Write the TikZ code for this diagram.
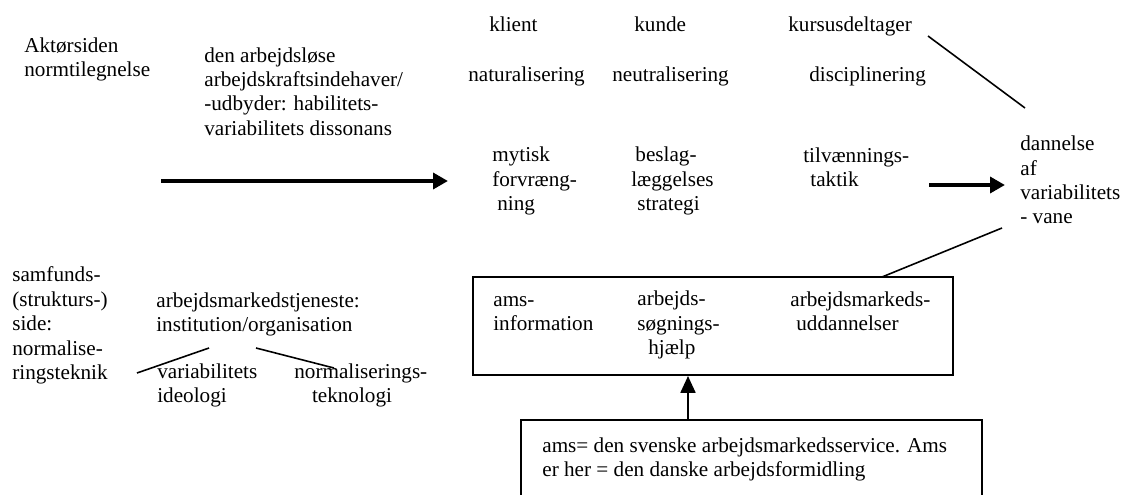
\documentclass[tikz,border=0pt]{standalone}
\usepackage{fontspec}
\setmainfont{Liberation Serif}
\usetikzlibrary{arrows.meta}

\tikzset{
  tekst/.style={anchor=base west, align=left, inner sep=0pt, font=\fontsize{12}{13.8}\selectfont},
  streg/.style={line width=0.9pt},
  tykpil/.style={line width=2.8pt, -{Triangle[length=8.5pt,width=9pt]}},
  tyndpil/.style={line width=1pt, -{Triangle[length=9.5pt,width=8.5pt]}},
  kasse/.style={draw, line width=1.2pt, inner sep=0pt},
}

\begin{document}
\begin{tikzpicture}[x=0.5666pt, y=-0.5666pt]
  \clip (0,0) rectangle (1122,495);

  % Aktørsiden (tekster sat efter sidste linjes grundlinje)
  \node[tekst] (akt) at (24,76.4) {Aktørsiden\\normtilegnelse};
  \node[tekst] (ledig) at (204,135.1) {den arbejdsløse\\arbejdskraftsindehaver/\\-udbyder: habilitets-\\variabilitets dissonans};

  % Roller, virkninger og strategier
  \node[tekst] (klient) at (489,32) {klient};
  \node[tekst] (kunde) at (634,32) {kunde};
  \node[tekst] (kursus) at (788,32) {kursusdeltager};
  \node[tekst] (natural) at (468,82) {naturalisering};
  \node[tekst] (neutral) at (612,82) {neutralisering};
  \node[tekst] (discipl) at (809,82) {disciplinering};
  \node[tekst] (mytisk) at (492,210.7) {mytisk\\forvræng-\\\hspace{2.8pt}ning};
  \node[tekst] (beslag) at (631,210.7) {\hspace{2.3pt}beslag-\\læggelses\\\hspace{3.4pt}strategi};
  \node[tekst] (tilv) at (803,186.4) {tilvænnings-\\\hspace{4pt}taktik};
  \node[tekst] (vane) at (1020,224) {dannelse\\af\\variabilitets\\- vane};

  % Pile mod vanedannelsen
  \coordinate (p1) at (161,181);
  \coordinate (p2) at (448,181);
  \draw[tykpil] (p1) -- (p2);
  \coordinate (p3) at (929,185);
  \coordinate (p4) at (1005,185);
  \draw[tykpil] (p3) -- (p4);
  \coordinate (k1) at (928,36);
  \coordinate (k2) at (1025,108);
  \draw[streg] (k1) -- (k2);

  % Samfundssiden
  \node[tekst] (samfund) at (12,379.4) {samfunds-\\(strukturs-)\\side:\\normalise-\\ringsteknik};
  \node[tekst] (tjeneste) at (156,331.4) {arbejdsmarkedstjeneste:\\institution/organisation};
  \node[tekst] (ideologi) at (157,402.4) {variabilitets\\ideologi};
  \node[tekst] (teknologi) at (294,402.4) {normaliserings-\\\hspace{10pt}teknologi};
  \coordinate (s1) at (137,373);
  \coordinate (s2) at (209,348);
  \coordinate (s3) at (256,348);
  \coordinate (s4) at (334,368);
  \draw[streg] (s1) -- (s2);
  \draw[streg] (s3) -- (s4);

  % Tilbud
  \node[kasse, minimum width=272pt, minimum height=55.5pt] (tilbud) at (713,326) {};
  \node[tekst] (info) at (493,330.4) {ams-\\information};
  \node[tekst] (soeg) at (637,354.7) {arbejds-\\søgnings-\\\hspace{6.2pt}hjælp};
  \node[tekst] (udd) at (790,330.4) {arbejdsmarkeds-\\\hspace{3.4pt}uddannelser};
  \coordinate (v1) at (1002,228);
  \coordinate (v2) at (882,277);
  \draw[streg] (v1) -- (v2);

  % Note
  \node[kasse, minimum width=261.2pt, minimum height=51pt] (note) at (751.5,465) {};
  \node[tekst] (notetekst) at (542,476.4) {ams= den svenske arbejdsmarkedsservice. Ams\\er her = den danske arbejdsformidling};
  \coordinate (pil) at (688,0);
  \draw[tyndpil] (note.north -| pil) -- (tilbud.south -| pil);
\end{tikzpicture}
\end{document}
